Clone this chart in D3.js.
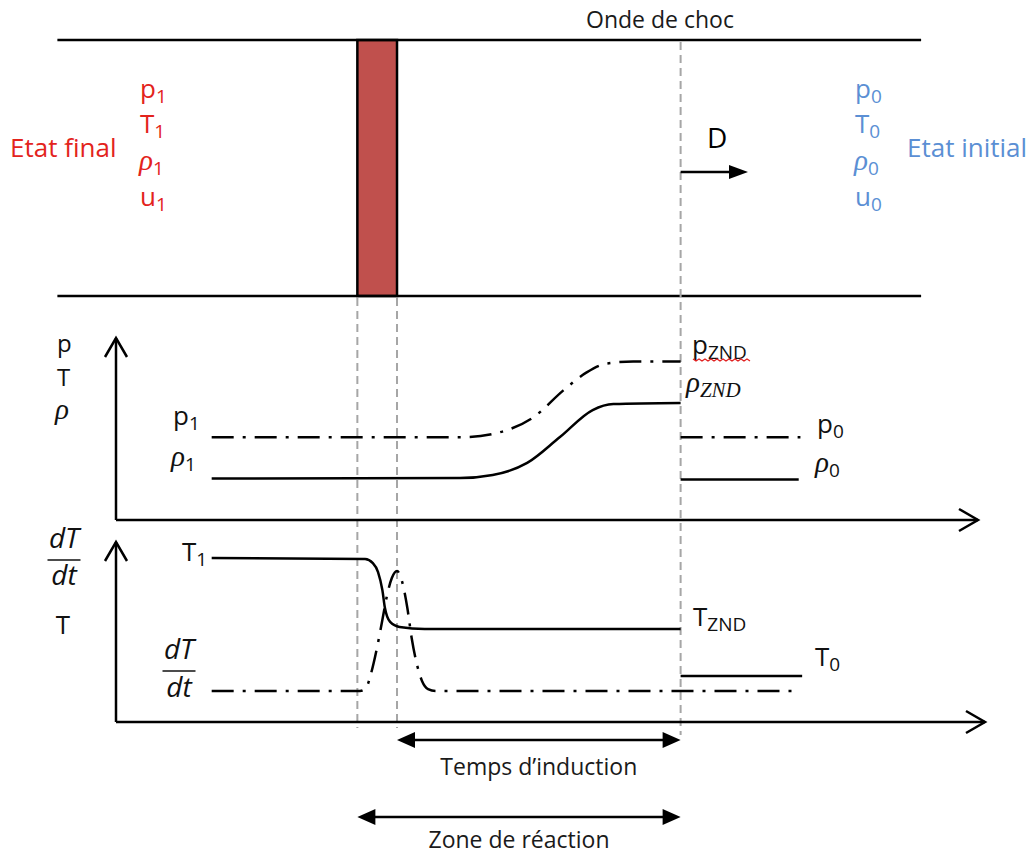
<!DOCTYPE html>
<html>
<head>
<meta charset="utf-8">
<script src="https://cdn.jsdelivr.net/npm/d3@7"></script>
<style>
  body { margin: 0; background: #fff; }
  svg { display: block; }
  text { font-family: "Open Sans", Lato, "Liberation Sans", sans-serif; }
</style>
</head>
<body>
<div id="chart"></div>
<script>
// positions along the tube, arbitrary units (0..100 = length of the x axes)
const tubeStart = -6.8, tubeEnd = 93.4;
const reactionStart = 28.0, inductionEnd = 32.6, shockFront = 65.5;
const stateStart = 11.1, stateEnd = 79.4;

// upper panel: pressure (dash-dot) and density (solid), behind the shock
const pX = [11.1, 40.3, 45.4, 48.4, 51.9, 54.6, 57.0, 60.0, 65.5];
const pY = [4.6, 4.6, 5.0, 5.7, 7.2, 8.2, 8.7, 8.8, 8.8];
const rhoX = [11.1, 39.9, 43.7, 47.7, 51.5, 55.3, 57.7, 65.5];
const rhoY = [2.3, 2.33, 2.5, 3.17, 4.61, 6.11, 6.44, 6.5];
// fresh gas ahead of the shock
const p0 = 4.6, rho0 = 2.25;

// lower panel: temperature (solid) and dT/dt (dash-dot)
const tX = [11.1, 28.9, 29.8, 30.4, 30.9, 31.2, 31.8, 32.9, 35.8, 65.5];
const tY = [9.11, 9.06, 8.83, 8.33, 7.33, 6.33, 5.56, 5.28, 5.17, 5.17];
const dtX = [11.1, 28.3, 29.0, 29.6, 30.3, 30.9, 31.4, 32.0, 32.6, 33.2, 33.8, 34.3, 34.9, 35.5, 36.2, 37.1, 79.4];
const dtY = [1.72, 1.72, 1.89, 2.72, 4.17, 5.67, 6.94, 8.0, 8.39, 7.78, 6.33, 4.67, 3.22, 2.28, 1.83, 1.72, 1.72];
const t0 = 2.56;

const width = 1035, height = 854;
const red = '#e3231c', blue = '#5b8fd4', ink = '#111';
const dashDot = '22,9,3,9';
const mathFont = '"Liberation Serif", "DejaVu Serif", serif';

const svg = d3.select('#chart').append('svg')
  .attr('width', width).attr('height', height);
svg.append('rect').attr('width', width).attr('height', height).attr('fill', '#fff');

const x = d3.scaleLinear().domain([0, 100]).range([116, 978]);
const yUp = d3.scaleLinear().domain([0, 10]).range([520, 340]);
const yLo = d3.scaleLinear().domain([0, 10]).range([722, 542]);

const tubeTop = 40, tubeBottom = 296;

// ---- tube with the reaction zone ----
svg.append('rect')
  .attr('x', x(reactionStart)).attr('y', tubeTop)
  .attr('width', x(inductionEnd) - x(reactionStart)).attr('height', tubeBottom - tubeTop)
  .attr('fill', '#c0504d').attr('stroke', '#000').attr('stroke-width', 2.5);

[tubeTop, tubeBottom].forEach(y => {
  svg.append('line')
    .attr('x1', x(tubeStart)).attr('x2', x(tubeEnd))
    .attr('y1', y).attr('y2', y)
    .attr('stroke', '#000').attr('stroke-width', 2.5);
});

// guide lines
const guides = [
  {pos: reactionStart, y1: tubeBottom + 2, y2: 728},
  {pos: inductionEnd, y1: tubeBottom + 2, y2: 728},
  {pos: shockFront, y1: tubeTop + 2, y2: 735}
];
svg.selectAll('.guide').data(guides).enter().append('line')
  .attr('class', 'guide')
  .attr('x1', d => x(d.pos)).attr('x2', d => x(d.pos))
  .attr('y1', d => d.y1).attr('y2', d => d.y2)
  .attr('stroke', '#a6a6a6').attr('stroke-width', 2)
  .attr('stroke-dasharray', '8,5');

// ---- helpers ----
const label = (xp, yp, parts, color, anchor, size) => {
  const t = svg.append('text')
    .attr('x', xp).attr('y', yp)
    .attr('fill', color || ink)
    .attr('text-anchor', anchor || 'start')
    .attr('font-size', size || 26);
  parts.forEach(p => {
    const s = t.append('tspan').text(p.t);
    if (p.math) s.attr('font-family', mathFont).attr('font-style', 'italic').attr('font-size', p.size || 29);
    if (p.sub) s.attr('font-size', p.size || 19).attr('dy', 5);
  });
  return t;
};

const arrowHead = (tipX, tipY, dir, len, half) => {
  svg.append('path')
    .attr('d', `M${tipX},${tipY}L${tipX - dir * len},${tipY - half}L${tipX - dir * len},${tipY + half}Z`)
    .attr('fill', '#000');
};

const chevron = (tipX, tipY, vertical) => {
  const d = vertical
    ? `M${tipX - 11},${tipY + 19}L${tipX},${tipY}L${tipX + 11},${tipY + 19}`
    : `M${tipX - 19},${tipY - 11}L${tipX},${tipY}L${tipX - 19},${tipY + 11}`;
  svg.append('path').attr('d', d).attr('fill', 'none')
    .attr('stroke', '#000').attr('stroke-width', 2.5).attr('stroke-linejoin', 'miter');
};

// ---- top texts ----
label(660, 28, [{t: 'Onde de choc'}], '#1a1a1a', 'middle', 23);

label(10, 157, [{t: 'Etat final'}], red);
label(140, 98, [{t: 'p'}, {t: '1', sub: true}], red);
label(140, 133, [{t: 'T'}, {t: '1', sub: true}], red);
label(139, 170, [{t: 'ρ', math: true}, {t: '1', sub: true}], red);
label(140, 206, [{t: 'u'}, {t: '1', sub: true}], red);

label(907, 157, [{t: 'Etat initial'}], blue);
label(855, 98, [{t: 'p'}, {t: '0', sub: true}], blue);
label(855, 133, [{t: 'T'}, {t: '0', sub: true}], blue);
label(854, 170, [{t: 'ρ', math: true}, {t: '0', sub: true}], blue);
label(855, 206, [{t: 'u'}, {t: '0', sub: true}], blue);

// propagation arrow
const dY = 172;
svg.append('line')
  .attr('x1', x(shockFront)).attr('x2', 735)
  .attr('y1', dY).attr('y2', dY)
  .attr('stroke', '#000').attr('stroke-width', 2.5);
arrowHead(748, dY, 1, 19, 7);
label(707, 148, [{t: 'D'}], '#000', 'start', 28);

// ---- axes ----
const axisLine = (x1, y1, x2, y2) => svg.append('line')
  .attr('x1', x1).attr('y1', y1).attr('x2', x2).attr('y2', y2)
  .attr('stroke', '#000').attr('stroke-width', 2.5);

axisLine(x(0), yUp(0), x(0), 338);
chevron(x(0), 338, true);
axisLine(x(0), yUp(0), x(100), yUp(0));
chevron(x(100), yUp(0), false);

axisLine(x(0), yLo(0), x(0), 542);
chevron(x(0), 542, true);
axisLine(x(0), yLo(0), 985, yLo(0));
chevron(985, yLo(0), false);

// ---- curves ----
const lineUp = d3.line().x(d => x(d[0])).y(d => yUp(d[1])).curve(d3.curveMonotoneX);
const lineLo = d3.line().x(d => x(d[0])).y(d => yLo(d[1])).curve(d3.curveMonotoneX);

const curves = [
  {data: d3.zip(pX, pY), gen: lineUp, dash: dashDot},
  {data: d3.zip(rhoX, rhoY), gen: lineUp, dash: null},
  {data: [[shockFront, p0], [stateEnd, p0]], gen: lineUp, dash: dashDot},
  {data: [[shockFront, rho0], [stateEnd - 0.2, rho0]], gen: lineUp, dash: null},
  {data: d3.zip(tX, tY), gen: lineLo, dash: null},
  {data: d3.zip(dtX, dtY), gen: lineLo, dash: dashDot},
  {data: [[shockFront, t0], [stateEnd + 0.2, t0]], gen: lineLo, dash: null}
];
svg.selectAll('.curve').data(curves).enter().append('path')
  .attr('class', 'curve')
  .attr('d', d => d.gen(d.data))
  .attr('fill', 'none')
  .attr('stroke', '#000')
  .attr('stroke-width', 2.5)
  .attr('stroke-dasharray', d => d.dash);

// ---- panel labels ----
label(57, 352, [{t: 'p'}], ink, 'start', 24);
label(57, 386, [{t: 'T'}], ink, 'start', 24);
label(55, 419, [{t: 'ρ', math: true}], ink, 'start', 24);

label(173, 425, [{t: 'p'}, {t: '1', sub: true}]);
label(171, 466, [{t: 'ρ', math: true}, {t: '1', sub: true}]);
label(692, 354, [{t: 'p'}, {t: 'ZND', sub: true, size: 19}]);
label(686, 392, [{t: 'ρ', math: true}, {t: 'ZND', math: true, sub: true, size: 21}]);
label(817, 433, [{t: 'p'}, {t: '0', sub: true}]);
label(815, 472, [{t: 'ρ', math: true}, {t: '0', sub: true}]);

// spell-check squiggle under p_ZND, as in the source document
const sq = d3.range(0, 20).map(i => [693 + i * 3, 359 + (i % 2 ? 2 : 0)]);
svg.append('path').attr('d', d3.line()(sq)).attr('fill', 'none')
  .attr('stroke', '#e02020').attr('stroke-width', 1.2);

const fraction = (cx, yNum, yBar, yDen, w) => {
  svg.append('text').attr('x', cx).attr('y', yNum).attr('text-anchor', 'middle')
    .attr('font-family', mathFont).attr('font-style', 'italic').attr('font-size', 28)
    .attr('fill', ink).text('dT');
  svg.append('line').attr('x1', cx - w / 2).attr('x2', cx + w / 2)
    .attr('y1', yBar).attr('y2', yBar).attr('stroke', ink).attr('stroke-width', 1.5);
  svg.append('text').attr('x', cx).attr('y', yDen).attr('text-anchor', 'middle')
    .attr('font-family', mathFont).attr('font-style', 'italic').attr('font-size', 28)
    .attr('fill', ink).text('dt');
};
fraction(64, 548, 560, 585, 33);
label(63, 634, [{t: 'T'}], ink, 'middle');
fraction(179, 659, 671, 697, 33);

label(182, 561, [{t: 'T'}, {t: '1', sub: true}]);
label(693, 626, [{t: 'T'}, {t: 'ZND', sub: true, size: 19}]);
label(815, 666, [{t: 'T'}, {t: '0', sub: true}]);

// ---- induction time and reaction zone ----
const spans = [
  {from: inductionEnd, to: shockFront, y: 740, text: 'Temps d’induction', ty: 775},
  {from: reactionStart, to: shockFront, y: 817, text: 'Zone de réaction', ty: 848}
];
spans.forEach(s => {
  svg.append('line')
    .attr('x1', x(s.from) + 14).attr('x2', x(s.to) - 14)
    .attr('y1', s.y).attr('y2', s.y)
    .attr('stroke', '#000').attr('stroke-width', 2.5);
  arrowHead(x(s.from), s.y, -1, 18, 8);
  arrowHead(x(s.to), s.y, 1, 18, 8);
  label((x(s.from) + x(s.to)) / 2, s.ty, [{t: s.text}], '#1a1a1a', 'middle', 23);
});
</script>
</body>
</html>
